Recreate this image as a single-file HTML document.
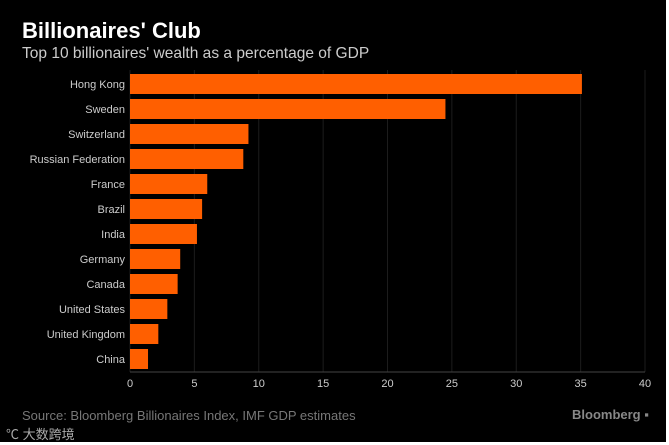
<!DOCTYPE html>
<html><head><meta charset="utf-8"><style>
html,body{margin:0;padding:0;background:#fff}
#wrap{position:relative;width:666px;height:442px;background:#000;overflow:hidden;font-family:"Liberation Sans","Noto Sans CJK SC",sans-serif}
.t{position:absolute;white-space:nowrap}
</style></head><body>
<div id="wrap">
<div class="t" style="left:22px;top:18px;font-size:22px;font-weight:bold;color:#fff">Billionaires' Club</div>
<div class="t" style="left:22px;top:45px;font-size:16px;color:#ccc;transform:scaleX(0.97);transform-origin:left">Top 10 billionaires' wealth as a percentage of GDP</div>
<svg id="chart" width="666" height="442" style="position:absolute;left:0;top:0"></svg>
<div class="t" style="left:22px;top:408px;font-size:13px;color:#777">Source: Bloomberg Billionaires Index, IMF GDP estimates</div>
<div class="t" style="left:6px;top:424px;font-size:13px;color:#aaa">℃ 大数跨境</div>
<div class="t" style="left:572px;top:407px;font-size:13px;font-weight:bold;color:#888">Bloomberg ▪</div>
</div>
<script>
const categories=["Hong Kong","Sweden","Switzerland","Russian Federation","France","Brazil","India","Germany","Canada","United States","United Kingdom","China"];
const values=[35.1,24.5,9.2,8.8,6.0,5.6,5.2,3.9,3.7,2.9,2.2,1.4];
const ticks=[0,5,10,15,20,25,30,35,40];
const NS="http://www.w3.org/2000/svg";
const svg=document.getElementById('chart');
const x0=130,x1=645,xmax=40,top0=74,step=25,bh=20,axisY=372;
const xs=v=>x0+(v/xmax)*(x1-x0);
const ys=i=>top0+i*step;
function mk(t,a){const e=document.createElementNS(NS,t);for(const k in a)e.setAttribute(k,a[k]);svg.appendChild(e);return e;}
ticks.forEach(t=>{
 const g=mk('line',{x1:xs(t),x2:xs(t),y1:top0-4,y2:axisY,stroke:'#1c1c1c','stroke-width':1});
 
 
 const l=mk('text',{x:xs(t),y:axisY+15,fill:'#ccc','font-size':11,'text-anchor':'middle','font-family':'Liberation Sans, sans-serif'});
 l.textContent=t;
 
 
});
const ax=mk('line',{x1:x0,x2:x1,y1:axisY,y2:axisY,stroke:'#444','stroke-width':1});


categories.forEach((c,i)=>{
 const r=mk('rect',{x:x0,y:ys(i),width:xs(values[i])-x0,height:bh,fill:'#ff5f00'});
 
 
 const l=mk('text',{x:x0-5,y:ys(i)+bh/2+4,fill:'#ccc','font-size':11,'text-anchor':'end','font-family':'Liberation Sans, sans-serif'});
 l.textContent=c;
 
 
});
</script>
</body></html>
